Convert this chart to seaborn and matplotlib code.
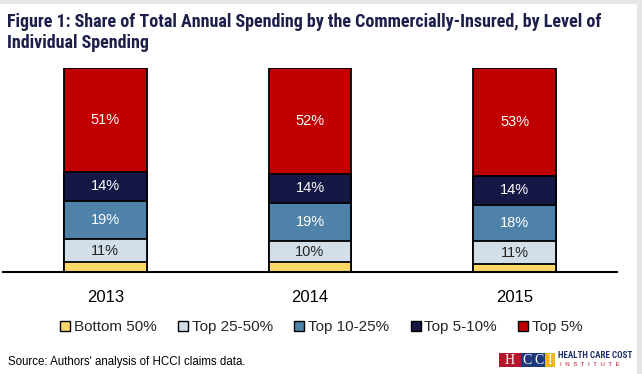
import numpy as np
import pandas as pd
import matplotlib.pyplot as plt
import seaborn as sns
from matplotlib.patches import Rectangle, Patch

# ── data ───────────────────────────────────────────────────
years = ['2013', '2014', '2015']
groups = ['Bottom 50%', 'Top 25-50%', 'Top 10-25%', 'Top 5-10%', 'Top 5%']
bottom50 = [5, 5, 4]
top25_50 = [11, 10, 11]
top10_25 = [19, 19, 18]
top5_10 = [14, 14, 14]
top5 = [51, 52, 53]

colors = ['#FFD966', '#D2DEE8', '#4E82A8', '#151844', '#C00000']
label_colors = [None, '#222222', 'white', 'white', 'white']
narrow = ['Roboto Condensed', 'Liberation Sans Narrow', 'Liberation Sans']

sns.set_theme(style='white')
plt.rcParams['font.family'] = ['Liberation Sans', 'DejaVu Sans']

df = pd.DataFrame({'Year': years, groups[0]: bottom50, groups[1]: top25_50,
                   groups[2]: top10_25, groups[3]: top5_10, groups[4]: top5})
cum = df[groups].cumsum(axis=1)

fig = plt.figure(figsize=(6.42, 3.74), dpi=100)
fig.patch.set_facecolor('white')
ax = fig.add_axes([3 / 642, 1 - 272 / 374, 614 / 642, 204 / 374])

# stacked bars: draw cumulative totals from the top layer down
for g, c in reversed(list(zip(groups, colors))):
    sns.barplot(x=df['Year'], y=cum[g], color=c, width=0.405, saturation=1,
                edgecolor='black', linewidth=1.3, ax=ax)

# segment labels
for i in range(len(years)):
    for j, g in enumerate(groups):
        if label_colors[j] is None:
            continue
        val = df.loc[i, g]
        mid = cum.loc[i, g] - val / 2
        ax.text(i, mid, f'{val}%', ha='center', va='center',
                fontsize=10.5, color=label_colors[j])

ax.set_ylim(0, 100)
ax.set_xlim(-0.5, 2.5)
ax.set_xlabel('')
ax.set_ylabel('')
ax.set_yticks([])
for s in ['top', 'left', 'right']:
    ax.spines[s].set_visible(False)
ax.spines['bottom'].set_color('black')
ax.spines['bottom'].set_linewidth(1.5)
ax.tick_params(axis='x', length=0, pad=13, labelsize=12, labelcolor='black')

# legend
handles = [Patch(facecolor=c, edgecolor='black', linewidth=1.0) for c in colors]
fig.legend(handles, groups, loc='center', bbox_to_anchor=(321.5 / 642, 1 - 327 / 374),
           ncol=5, frameon=False, fontsize=11, handlelength=0.65, handleheight=0.65,
           handletextpad=0.25, columnspacing=1.4)

# title
title_kw = dict(ha='left', va='center', fontsize=13, fontweight='bold',
                color='#1C1F4A', family=narrow, fontstretch='condensed')
fig.text(7 / 642, 1 - 22 / 374,
         'Figure 1: Share of Total Annual Spending by the Commercially-Insured, by Level of',
         **title_kw)
fig.text(7 / 642, 1 - 43 / 374, 'Individual Spending', **title_kw)

# source
fig.text(8 / 642, 1 - 362 / 374, "Source: Authors' analysis of HCCI claims data.",
         ha='left', va='center', fontsize=8.3, color='black')

# logo
W, H = 642, 374
def box(x0, y0, w, h, c):
    fig.add_artist(Rectangle((x0 / W, 1 - (y0 + h) / H), w / W, h / H,
                             transform=fig.transFigure, facecolor=c, edgecolor='none'))
box(499, 353, 22, 14, '#B5162B')
box(521, 353, 24, 14, '#1F3A7A')
box(545, 353, 10, 14, '#F2B31B')
for x, t in [(510, 'H'), (527, 'C'), (539, 'C'), (550, 'I')]:
    fig.text(x / W, 1 - 360 / H, t, ha='center', va='center', fontsize=10,
             color='white', family='Liberation Serif')
fig.text(558 / W, 1 - 356 / H, 'HEALTH CARE COST', ha='left', va='center',
         fontsize=6.5, fontweight='bold', color='#1F2F6A', family=narrow)
fig.text(560 / W, 1 - 365 / H, 'I  N  S  T  I  T  U  T  E', ha='left', va='center',
         fontsize=4.5, color='#B5162B')

# gray frame on top and right
box(0, 0, 642, 4, '#E6E6E6')
box(637, 0, 5, 374, '#E6E6E6')

fig.savefig('out.png', dpi=100)
